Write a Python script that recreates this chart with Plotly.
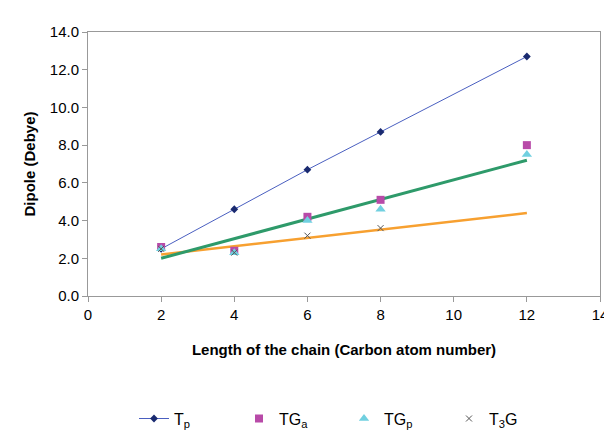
import plotly.graph_objects as go

x = [2, 4, 6, 8, 12]
tp = [2.5, 4.6, 6.7, 8.7, 12.7]
tga = [2.6, 2.4, 4.2, 5.1, 8.0]
tgp = [2.5, 2.3, 4.0, 4.6, 7.5]
x_t3g = [2, 4, 6, 8]
t3g = [2.5, 2.3, 3.2, 3.6]
trend_x = [2, 12]
trend_green = [2.0, 7.2]
trend_orange = [2.2, 4.4]

fig = go.Figure()
fig.add_trace(go.Scatter(x=trend_x, y=trend_orange, mode='lines', showlegend=False,
                         line=dict(color='#f7a030', width=2.5)))
fig.add_trace(go.Scatter(x=trend_x, y=trend_green, mode='lines', showlegend=False,
                         line=dict(color='#2e9a6a', width=3)))
fig.add_trace(go.Scatter(x=x, y=tp, mode='lines+markers', name='T<sub>p</sub>',
                         line=dict(color='#4a5fc0', width=1),
                         marker=dict(symbol='diamond', size=6, color='#1a2a70')))
fig.add_trace(go.Scatter(x=x, y=tga, mode='markers', name='TG<sub>a</sub>',
                         marker=dict(symbol='square', size=8, color='#b84aa8')))
fig.add_trace(go.Scatter(x=x, y=tgp, mode='markers', name='TG<sub>p</sub>',
                         marker=dict(symbol='triangle-up', size=9, color='#70d0e0')))
fig.add_trace(go.Scatter(x=x_t3g, y=t3g, mode='markers', name='T<sub>3</sub>G',
                         marker=dict(symbol='x-thin', size=6, color='#555',
                                     line=dict(width=1, color='#555'))))

fig.update_layout(
    width=612, height=443, paper_bgcolor='white', plot_bgcolor='white',
    margin=dict(l=80, r=20, t=24, b=155, autoexpand=False),
    font=dict(family='Liberation Sans', size=15, color='black'),
    xaxis=dict(range=[0, 14], dtick=2, showgrid=False, showline=True, linecolor='#999',
               linewidth=1, ticks='outside', ticklen=5, tickcolor='#999', mirror=True,
               automargin=False,
               title=dict(text='<b>Length of the chain (Carbon atom number)</b>',
                          font=dict(size=15), standoff=22)),
    yaxis=dict(range=[0, 14], dtick=2, tickformat='.1f', showgrid=False, showline=True,
               linecolor='#999', linewidth=1, ticks='outside', ticklen=5, tickcolor='#999',
               mirror=True, automargin=False,
               title=dict(text='<b>Dipole (Debye)</b>', font=dict(size=15), standoff=10)),
    legend=dict(orientation='h', x=0.5, xanchor='center', y=-0.40, yanchor='top',
                font=dict(size=16), itemwidth=30, entrywidth=60, tracegroupgap=0),
)
fig.write_html("out.html")
